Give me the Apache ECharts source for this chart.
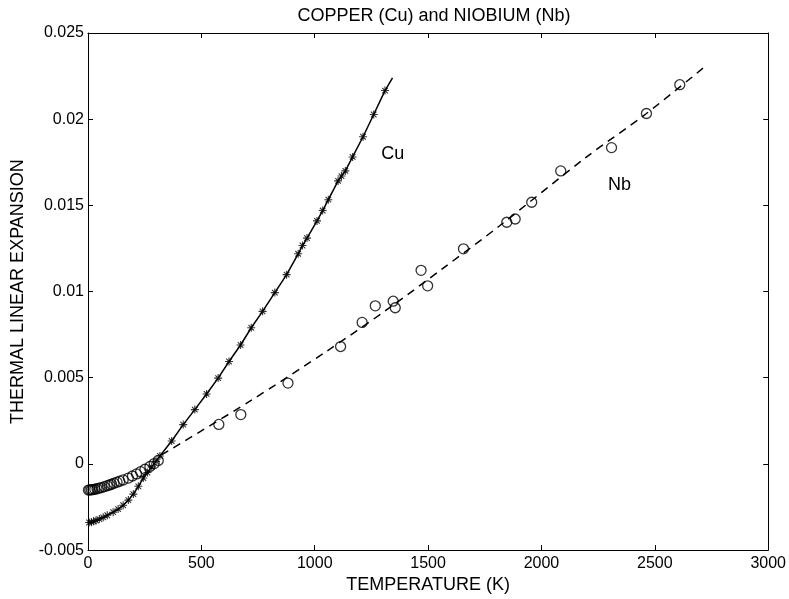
<!DOCTYPE html>
<html>
<head>
<meta charset="utf-8">
<script src="https://cdn.jsdelivr.net/npm/echarts@6/dist/echarts.min.js"></script>
<style>
  html, body { margin: 0; padding: 0; background: #fff; }
  #chart { width: 789px; height: 599px; }
</style>
</head>
<body>
<div id="chart"></div>
<script>
// axis ticks
var xTicks = [0, 500, 1000, 1500, 2000, 2500, 3000]
var yTicks = [-0.005, 0, 0.005, 0.01, 0.015, 0.02, 0.025]

// copper, measured points (T in K, expansion)
var cuT = [5, 15, 25, 35, 50, 67, 85, 111, 133, 155, 178, 200, 222, 244, 262, 281, 300, 317,
  369, 420, 471, 523, 574, 622, 673, 720, 770, 824, 876, 927, 946, 966, 1010, 1035, 1060,
  1103, 1118, 1135, 1167, 1213, 1260, 1310]
var cuV = [-0.0034, -0.00338, -0.00333, -0.00328, -0.0032, -0.0031, -0.00298, -0.0028, -0.00262,
  -0.0024, -0.0021, -0.00175, -0.0013, -0.00082, -0.0005, -0.00017, 0.00015, 0.00046,
  0.00133, 0.00228, 0.00315, 0.00406, 0.00498, 0.00594, 0.0069, 0.0079, 0.00885, 0.00994,
  0.01098, 0.01219, 0.01267, 0.0131, 0.0141, 0.0147, 0.01533, 0.01642, 0.0167, 0.017,
  0.01781, 0.01898, 0.02027, 0.02166]
// the copper curve runs a little past the last point
var cuEndT = 1343
var cuEndV = 0.0224

// niobium, measured points
var nbT = [2, 8, 15, 22, 30, 40, 50, 60, 72, 85, 95, 104, 115, 128, 140, 155, 178, 196, 214,
  232, 251, 273, 292, 310,
  577, 674, 882, 1114, 1209, 1267, 1346, 1355, 1469, 1498, 1656, 1847, 1884, 1957, 2085,
  2309, 2463, 2610]
var nbV = [-0.00152, -0.00151, -0.0015, -0.00149, -0.00147, -0.00144, -0.0014, -0.00137,
  -0.00132, -0.00126, -0.00122, -0.00118, -0.00112, -0.00106, -0.001, -0.00093, -0.00082,
  -0.0007, -0.00058, -0.00045, -0.00031, -0.00015, 0.00002, 0.0002,
  0.00229, 0.00286, 0.00469, 0.00681, 0.00821, 0.00917, 0.00944, 0.00906, 0.01123, 0.01033,
  0.01248, 0.01402, 0.01421, 0.01518, 0.017, 0.01835, 0.02033, 0.022]
// niobium fit (dashed)
var nbFitT = [324, 714, 1051, 1315, 1564, 1813, 2195, 2460, 2718]
var nbFitV = [0.00052, 0.00364, 0.00652, 0.00892, 0.01133, 0.01379, 0.01777, 0.0203, 0.02302]

var labelCu = [1344, 0.01796]
var labelNb = [2344, 0.01617]

function pairs (xs, ys) {
  var out = []
  for (var i = 0; i < xs.length; i++) out.push([xs[i], ys[i]])
  return out
}

var cuPoints = pairs(cuT, cuV)
var cuLine = cuPoints.concat([[cuEndT, cuEndV]])
var nbPoints = pairs(nbT, nbV)
var nbFit = pairs(nbFitT, nbFitV)

var font = 'Liberation Sans, Arial, Helvetica, sans-serif'
var star = 'path://M0,5L10,5M5,0L5,10M1.5,1.5L8.5,8.5M1.5,8.5L8.5,1.5'

var chart = echarts.init(document.getElementById('chart'))

function frameAxis (pos, isX) {
  return {
    type: 'value',
    position: pos,
    min: isX ? xTicks[0] : yTicks[0],
    max: isX ? xTicks[xTicks.length - 1] : yTicks[yTicks.length - 1],
    interval: isX ? 500 : 0.005,
    axisLine: { show: true, onZero: false, lineStyle: { color: '#000', width: 1 } },
    axisTick: { show: true, inside: true, length: 5, lineStyle: { color: '#000' } },
    axisLabel: { show: false },
    splitLine: { show: false }
  }
}

var option = {
  backgroundColor: '#fff',
  animation: false,
  title: {
    text: 'COPPER (Cu) and NIOBIUM (Nb)',
    left: 429,
    textAlign: 'center',
    top: 2,
    textStyle: { fontFamily: font, fontSize: 18, fontWeight: 'normal', color: '#000' }
  },
  grid: { left: 88, right: 20, top: 33, bottom: 46 },
  xAxis: [{
    type: 'value',
    position: 'bottom',
    min: xTicks[0],
    max: xTicks[xTicks.length - 1],
    interval: 500,
    name: 'TEMPERATURE (K)',
    nameLocation: 'middle',
    nameGap: 23,
    nameTextStyle: { fontFamily: font, fontSize: 18, color: '#000' },
    axisLine: { show: true, onZero: false, lineStyle: { color: '#000', width: 1 } },
    axisTick: { show: true, inside: true, length: 5, lineStyle: { color: '#000' } },
    axisLabel: {
      fontFamily: font, fontSize: 16, color: '#000', margin: 5,
      formatter: function (v) { return String(v) }
    },
    splitLine: { show: false }
  }, frameAxis('top', true)],
  yAxis: [{
    type: 'value',
    position: 'left',
    min: yTicks[0],
    max: yTicks[yTicks.length - 1],
    interval: 0.005,
    name: 'THERMAL LINEAR EXPANSION',
    nameLocation: 'middle',
    nameRotate: 90,
    nameGap: 61,
    nameTextStyle: { fontFamily: font, fontSize: 18, color: '#000' },
    axisLine: { show: true, onZero: false, lineStyle: { color: '#000', width: 1 } },
    axisTick: { show: true, inside: true, length: 5, lineStyle: { color: '#000' } },
    axisLabel: {
      fontFamily: font, fontSize: 16, color: '#000', margin: 4,
      formatter: function (v) { return String(Math.round(v * 1000) / 1000) }
    },
    splitLine: { show: false }
  }, frameAxis('right', false)],
  series: [{
    name: 'Cu curve',
    type: 'line',
    data: cuLine,
    showSymbol: false,
    lineStyle: { color: '#000', width: 1.5 },
    z: 3
  }, {
    name: 'Cu',
    type: 'scatter',
    data: cuPoints,
    symbol: star,
    symbolSize: 8,
    itemStyle: { color: 'transparent', borderColor: '#000', borderWidth: 1.1 },
    z: 4
  }, {
    name: 'Nb fit',
    type: 'line',
    data: nbFit,
    smooth: 0.3,
    showSymbol: false,
    lineStyle: { color: '#000', width: 1.5, type: [8, 6] },
    z: 3
  }, {
    name: 'Nb',
    type: 'scatter',
    data: nbPoints,
    symbol: 'circle',
    symbolSize: 10,
    itemStyle: { color: 'transparent', borderColor: '#000', borderWidth: 1.3 },
    z: 4
  }]
}

chart.setOption(option)

var pCu = chart.convertToPixel({ gridIndex: 0 }, labelCu)
var pNb = chart.convertToPixel({ gridIndex: 0 }, labelNb)
chart.setOption({
  graphic: [{
    type: 'text', x: pCu[0], y: pCu[1],
    style: { text: 'Cu', font: '18px ' + font, fill: '#000', align: 'center', verticalAlign: 'middle' }
  }, {
    type: 'text', x: pNb[0], y: pNb[1],
    style: { text: 'Nb', font: '18px ' + font, fill: '#000', align: 'center', verticalAlign: 'middle' }
  }]
})
</script>
</body>
</html>
